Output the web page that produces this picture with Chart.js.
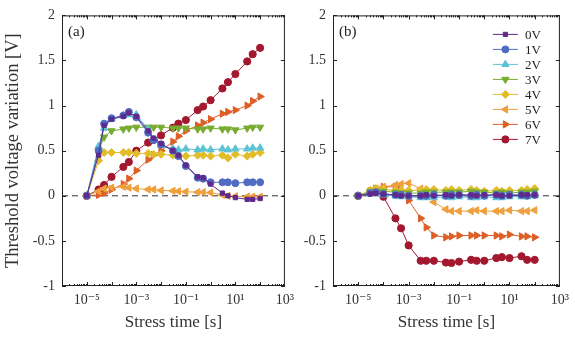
<!DOCTYPE html>
<html>
<head>
<meta charset="utf-8">
<script src="https://cdn.jsdelivr.net/npm/chart.js@4.4.0/dist/chart.umd.min.js"></script>
<style>
  body { margin: 0; background: #fff; }
  #wrap { position: relative; width: 575px; height: 337px; }
  canvas { position: absolute; top: 0; }
</style>
</head>
<body>
<div id="wrap">
  <canvas id="chartA" width="300" height="337" style="left:0"></canvas>
  <canvas id="chartB" width="285" height="337" style="left:290px"></canvas>
</div>
<script>
// stress times [s]
const times = [1e-5, 3e-5, 5e-5, 1e-4, 3e-4, 5e-4, 1e-3, 3e-3, 5e-3, 1e-2, 3e-2, 5e-2,
               1e-1, 3e-1, 5e-1, 1, 3, 5, 10, 30, 50, 100];
const gateLabels = ['0V', '1V', '2V', '3V', '4V', '5V', '6V', '7V'];
const xTickValues = [1e-5, 1e-3, 1e-1, 1e1, 1e3];
const yTickValues = [-1, -0.5, 0, 0.5, 1, 1.5, 2];

// panel (a)
const a0V = [0, 0.45, 0.78, 0.85, 0.88, 0.92, 0.88, 0.72, 0.64, 0.58, 0.50, 0.45, 0.34, 0.21, 0.20, 0.13, 0.03, 0.00, -0.02, -0.04, -0.04, -0.03];
const a1V = [0, 0.50, 0.80, 0.86, 0.89, 0.93, 0.87, 0.70, 0.62, 0.57, 0.50, 0.44, 0.33, 0.20, 0.19, 0.15, 0.15, 0.15, 0.14, 0.15, 0.15, 0.15];
const a2V = [0, 0.55, 0.75, 0.85, 0.89, 0.90, 0.90, 0.74, 0.62, 0.56, 0.52, 0.51, 0.52, 0.51, 0.52, 0.51, 0.52, 0.51, 0.52, 0.52, 0.53, 0.53];
const a3V = [0, 0.50, 0.65, 0.72, 0.74, 0.75, 0.76, 0.76, 0.76, 0.76, 0.75, 0.75, 0.75, 0.74, 0.74, 0.75, 0.74, 0.74, 0.73, 0.75, 0.76, 0.76];
const a4V = [0, 0.39, 0.48, 0.48, 0.48, 0.48, 0.47, 0.47, 0.46, 0.46, 0.45, 0.45, 0.44, 0.45, 0.45, 0.44, 0.45, 0.42, 0.46, 0.44, 0.46, 0.48];
const a5V = [0, 0.05, 0.08, 0.09, 0.10, 0.09, 0.08, 0.07, 0.07, 0.06, 0.055, 0.05, 0.045, 0.04, 0.04, 0.035, 0.01, 0.00, -0.005, -0.01, -0.01, -0.01];
const a6V = [0, 0.01, 0.03, 0.07, 0.13, 0.19, 0.28, 0.40, 0.45, 0.50, 0.60, 0.66, 0.72, 0.78, 0.81, 0.85, 0.91, 0.93, 0.95, 1.00, 1.05, 1.10];
const a7V = [0, 0.07, 0.12, 0.21, 0.32, 0.375, 0.50, 0.59, 0.62, 0.67, 0.755, 0.80, 0.84, 0.95, 0.99, 1.06, 1.19, 1.26, 1.35, 1.49, 1.57, 1.64];

// panel (b)
const b0V = [0, 0.02, 0.03, 0.02, 0.01, 0.00, 0.00, 0.00, 0.01, 0.00, 0.01, 0.00, 0.01, 0.01, 0.00, 0.01, 0.01, 0.00, 0.00, 0.01, 0.01, 0.01];
const b1V = [0, 0.03, 0.04, 0.02, 0.01, 0.01, 0.00, 0.00, 0.00, 0.01, 0.00, 0.01, 0.01, 0.00, 0.01, 0.00, 0.01, 0.00, 0.01, 0.01, 0.00, 0.01];
const b2V = [0, 0.03, 0.03, 0.01, 0.00, -0.01, -0.01, -0.02, -0.02, -0.02, -0.01, -0.02, -0.01, -0.02, -0.02, -0.01, -0.02, -0.02, -0.01, -0.01, -0.01, 0.00];
const b3V = [0, 0.04, 0.05, 0.05, 0.04, 0.03, 0.03, 0.03, 0.04, 0.04, 0.04, 0.04, 0.04, 0.05, 0.04, 0.04, 0.03, 0.04, 0.03, 0.04, 0.04, 0.05];
const b4V = [0, 0.06, 0.08, 0.07, 0.06, 0.06, 0.06, 0.06, 0.07, 0.07, 0.06, 0.07, 0.06, 0.07, 0.06, 0.05, 0.06, 0.05, 0.06, 0.06, 0.07, 0.08];
const b5V = [0, 0.04, 0.08, 0.10, 0.12, 0.13, 0.14, 0.08, 0.03, -0.07, -0.15, -0.17, -0.17, -0.17, -0.16, -0.17, -0.17, -0.17, -0.16, -0.17, -0.17, -0.16];
const b6V = [0, 0.05, 0.08, 0.10, 0.10, 0.06, -0.05, -0.25, -0.35, -0.44, -0.46, -0.45, -0.44, -0.44, -0.44, -0.44, -0.44, -0.45, -0.43, -0.45, -0.45, -0.46];
const b7V = [0, 0.05, 0.06, -0.01, -0.25, -0.36, -0.55, -0.72, -0.72, -0.72, -0.74, -0.745, -0.73, -0.71, -0.72, -0.72, -0.69, -0.68, -0.69, -0.67, -0.71, -0.71];

const colors = ['#5f2a8c', '#4f6cc2', '#5cc3d3', '#77ac30', '#e2bd2a', '#ef9f3c', '#dd5f26', '#a3182f'];
const markers = ['rect', 'circle', 'triangle', 'triangle', 'rectRot', 'triangle', 'triangle', 'circle'];
const rotations = [0, 0, 0, 180, 0, 270, 90, 0];
const markerSizes = [3, 3.5, 4.2, 4.2, 4, 4.2, 4.2, 3.6];

const serif = '"Liberation Serif", "DejaVu Serif", serif';

function makeDatasets(series) {
    return series.map((vals, i) => ({
        label: gateLabels[i],
        data: vals.map((v, k) => ({ x: times[k], y: v })),
        borderColor: colors[i],
        backgroundColor: colors[i],
        borderWidth: 1,
        pointStyle: markers[i],
        rotation: rotations[i],
        pointRadius: markerSizes[i],
        pointBorderWidth: 1,
        tension: 0
    }));
}

function superscript(n) {
    const map = { '-': '\u207B', '0': '\u2070', '1': '\u00B9', '2': '\u00B2', '3': '\u00B3',
                  '4': '\u2074', '5': '\u2075', '6': '\u2076', '7': '\u2077', '8': '\u2078', '9': '\u2079' };
    return String(n).split('').map(c => map[c]).join('');
}

// box, inward ticks, dashed zero line, panel tag, legend
const framePlugin = {
    id: 'frame',
    beforeDatasetsDraw(chart) {
        const { ctx, chartArea: { left, right }, scales: { y } } = chart;
        const y0 = y.getPixelForValue(0);
        ctx.save();
        ctx.strokeStyle = '#333';
        ctx.lineWidth = 1;
        ctx.setLineDash([6, 4]);
        ctx.beginPath();
        ctx.moveTo(left, y0);
        ctx.lineTo(right, y0);
        ctx.stroke();
        ctx.restore();
    },
    afterDraw(chart, args, opts) {
        const { ctx, chartArea: { left, right, top, bottom }, scales: { x, y } } = chart;
        ctx.save();
        ctx.strokeStyle = '#222';
        ctx.lineWidth = 1;
        ctx.strokeRect(left + 0.5, top + 0.5, right - left - 1, bottom - top - 1);

        ctx.beginPath();
        for (let e = -6; e <= 2; e++) {
            for (let m = 1; m <= 9; m++) {
                const px = Math.round(x.getPixelForValue(m * Math.pow(10, e))) + 0.5;
                const len = m === 1 ? 4 : 2;
                ctx.moveTo(px, bottom); ctx.lineTo(px, bottom - len);
                ctx.moveTo(px, top); ctx.lineTo(px, top + len);
            }
        }
        yTickValues.forEach(v => {
            const py = Math.round(y.getPixelForValue(v)) + 0.5;
            ctx.moveTo(left, py); ctx.lineTo(left + 4, py);
            ctx.moveTo(right, py); ctx.lineTo(right - 4, py);
        });
        ctx.stroke();

        ctx.fillStyle = '#222';
        ctx.font = '15px ' + serif;
        ctx.textBaseline = 'middle';
        ctx.textAlign = 'left';
        ctx.fillText(opts.tag, left + 6, top + 17);

        if (opts.legend) {
            chart.data.datasets.forEach((ds, i) => {
                const ly = top + 19 + i * 15;
                const x1 = right - 67, x2 = right - 42;
                ctx.strokeStyle = ds.borderColor;
                ctx.lineWidth = 1;
                ctx.beginPath();
                ctx.moveTo(x1, ly); ctx.lineTo(x2, ly);
                ctx.stroke();
                ctx.fillStyle = ds.backgroundColor;
                Chart.helpers.drawPoint(ctx, {
                    pointStyle: ds.pointStyle, rotation: ds.rotation,
                    radius: ds.pointRadius, borderWidth: 1
                }, (x1 + x2) / 2, ly);
                ctx.fillStyle = '#222';
                ctx.font = '13px ' + serif;
                ctx.fillText(ds.label, right - 35, ly + 1);
            });
        }
        ctx.restore();
    }
};

function makeChart(id, series, tag, yWidth, padRight, showTitle, legend) {
    return new Chart(document.getElementById(id), {
        type: 'line',
        data: { datasets: makeDatasets(series) },
        options: {
            responsive: false,
            animation: false,
            layout: { padding: { top: 14, right: padRight, bottom: 0, left: 0 } },
            scales: {
                x: {
                    type: 'logarithmic',
                    min: 1e-6,
                    max: 1e3,
                    grid: { display: false, drawTicks: false },
                    border: { display: false },
                    afterBuildTicks: scale => { scale.ticks = xTickValues.map(v => ({ value: v })); },
                    afterFit: scale => { scale.height = 51; },
                    ticks: {
                        autoSkip: false,
                        maxRotation: 0,
                        padding: 6,
                        color: '#333',
                        font: { family: serif, size: 14 },
                        callback: v => '10' + superscript(Math.round(Math.log10(v)))
                    },
                    title: {
                        display: true,
                        text: 'Stress time [s]',
                        color: '#333',
                        font: { family: serif, size: 17 },
                        padding: { top: 1 }
                    }
                },
                y: {
                    min: -1,
                    max: 2,
                    grid: { display: false, drawTicks: false },
                    border: { display: false },
                    afterBuildTicks: scale => { scale.ticks = yTickValues.map(v => ({ value: v })); },
                    afterFit: scale => { scale.width = yWidth; },
                    ticks: {
                        padding: 7,
                        color: '#333',
                        font: { family: serif, size: 14 },
                        callback: v => String(v)
                    },
                    title: {
                        display: showTitle,
                        text: 'Threshold voltage variation [V]',
                        color: '#333',
                        font: { family: serif, size: 18.5 },
                        padding: { top: 2, bottom: 0 }
                    }
                }
            },
            plugins: {
                legend: { display: false },
                tooltip: { enabled: false },
                frame: { tag: tag, legend: legend }
            }
        },
        plugins: [framePlugin]
    });
}

makeChart('chartA', [a0V, a1V, a2V, a3V, a4V, a5V, a6V, a7V], '(a)', 62, 11, true, false);
makeChart('chartB', [b0V, b1V, b2V, b3V, b4V, b5V, b6V, b7V], '(b)', 43, 15, false, true);
</script>
</body>
</html>
